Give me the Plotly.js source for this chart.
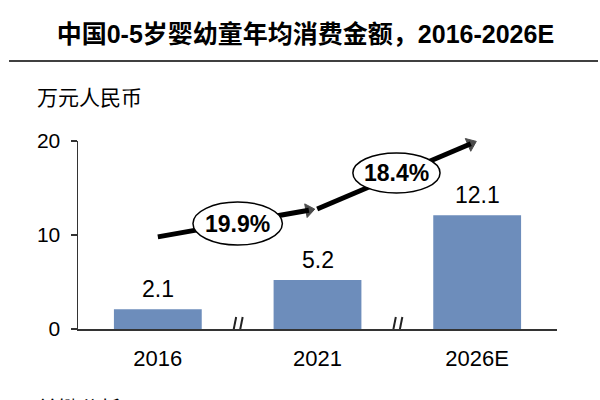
<!DOCTYPE html>
<html>
<head>
<meta charset="utf-8">
<script src="https://cdn.plot.ly/plotly-3.0.1.min.js"></script>
<style>html,body{margin:0;padding:0;background:#fff;}#chart{width:600px;height:400px;}</style>
</head>
<body>
<div id="chart"></div>
<script>
// ---- data ----
var categories = ['2016', '2021', '2026E'];
var values = [2.1, 5.2, 12.1];
var valueLabels = ['2.1', '5.2', '12.1'];
var cagrLabels = ['19.9%', '18.4%'];
var trend1X = [0, 0.946];
var trend1Y = [9.8, 12.64];
var trend2X = [0.998, 1.96];
var trend2Y = [12.77, 19.71];
var titleText = '中国0-5岁婴幼童年均消费金额，2016-2026E';
var unitText = '万元人民币';
var footText = '关键分析';

var FONT = 'Liberation Sans, Arial, Noto Sans CJK SC, sans-serif';
var CJK = 'Noto Sans CJK SC, sans-serif';
var idx = categories.map(function (c, i) { return i; });

function arrowTrace(xs, ys) {
  return {
    type: 'scatter', mode: 'lines+markers', x: xs, y: ys, cliponaxis: false,
    line: { color: '#000', width: 5 },
    marker: { symbol: 'triangle-up', size: [0, 12], angleref: 'previous', color: '#000',
              line: { color: '#000', width: 1 } },
    hoverinfo: 'skip'
  };
}

var traces = [
  {
    type: 'bar', x: idx, y: values, width: 0.55,
    marker: { color: '#6D8DBB', line: { width: 0 } },
    hoverinfo: 'skip'
  },
  arrowTrace(trend1X, trend1Y),
  arrowTrace(trend2X, trend2Y)
];

var annotations = [];
values.forEach(function (v, i) {
  annotations.push({
    x: i, y: v, xref: 'x', yref: 'y', text: valueLabels[i], showarrow: false,
    yanchor: 'bottom', yshift: 5, font: { family: FONT, size: 23, color: '#000' }
  });
});
// CAGR ellipse centres
var cagrX = [0.5, 1.4945];
var cagrY = [11.22, 16.6];
var cagrRx = [0.28, 0.273];
var cagrRy = [2.29, 2.13];
var shapes = [];
cagrLabels.forEach(function (t, i) {
  shapes.push({
    type: 'circle', xref: 'x', yref: 'y',
    x0: cagrX[i] - cagrRx[i], x1: cagrX[i] + cagrRx[i],
    y0: cagrY[i] - cagrRy[i], y1: cagrY[i] + cagrRy[i],
    fillcolor: '#fff', line: { color: '#000', width: 1.5 }, layer: 'above'
  });
  annotations.push({
    x: cagrX[i], y: cagrY[i], xref: 'x', yref: 'y', text: t, showarrow: false,
    font: { family: FONT, size: 23, color: '#000', weight: 'bold' }
  });
});
// axis breaks at midpoints between categories
[0.5, 1.5].forEach(function (bx) {
  shapes.push({
    type: 'line', xref: 'x', yref: 'y', xsizemode: 'pixel', ysizemode: 'pixel',
    xanchor: bx, yanchor: 0, x0: -3.5, x1: 3.5, y0: 0, y1: 0,
    line: { color: '#fff', width: 3 }
  });
  shapes.push({
    type: 'line', xref: 'x', yref: 'y', xsizemode: 'pixel', ysizemode: 'pixel',
    xanchor: bx, yanchor: 0, x0: -6.5, x1: -1.5, y0: -13, y1: 12,
    line: { color: '#222', width: 2 }
  });
  shapes.push({
    type: 'line', xref: 'x', yref: 'y', xsizemode: 'pixel', ysizemode: 'pixel',
    xanchor: bx, yanchor: 0, x0: 0, x1: 5, y0: -13, y1: 12,
    line: { color: '#222', width: 2 }
  });
});
// title rule
shapes.push({
  type: 'line', xref: 'paper', yref: 'paper', x0: -0.144, x1: 1.0856, y0: 1.4255, y1: 1.4255,
  line: { color: '#404040', width: 2 }
});
annotations.push({
  xref: 'paper', yref: 'paper', x: -0.0898, y: 1.239, xanchor: 'left', yanchor: 'middle',
  text: unitText, showarrow: false, font: { family: CJK, size: 21, color: '#000' }
});
annotations.push({
  xref: 'paper', yref: 'paper', x: -0.0898, y: -0.3245, xanchor: 'left', yanchor: 'top',
  text: footText, showarrow: false, font: { family: CJK, size: 21, color: '#000' }
});

var layout = {
  width: 600, height: 400,
  margin: { l: 78, r: 43, t: 141, b: 71, pad: 0 },
  paper_bgcolor: '#fff', plot_bgcolor: '#fff',
  showlegend: false,
  title: {
    text: titleText, xref: 'container', yref: 'container', x: 0.509, y: 0.915,
    xanchor: 'center', yanchor: 'middle',
    font: { family: FONT, size: 25, color: '#000', weight: 'bold' }
  },
  xaxis: {
    range: [-0.5, 2.5], tickvals: idx, ticktext: categories,
    showline: true, linecolor: '#333', linewidth: 1.5, ticks: '', showgrid: false, zeroline: false,
    tickfont: { family: FONT, size: 22, color: '#000' }, ticklabelstandoff: 9, fixedrange: true
  },
  yaxis: {
    range: [0, 20], tickvals: [0, 10, 20],
    showline: true, linecolor: '#333', linewidth: 1.5, ticks: 'outside', ticklen: 6, tickwidth: 1.5, tickcolor: '#333',
    showgrid: false, zeroline: false,
    tickfont: { family: FONT, size: 21, color: '#000' }, ticklabelstandoff: 6, fixedrange: true
  },
  shapes: shapes,
  annotations: annotations
};

Plotly.newPlot('chart', traces, layout, { staticPlot: true, displayModeBar: false });
</script>
</body>
</html>
